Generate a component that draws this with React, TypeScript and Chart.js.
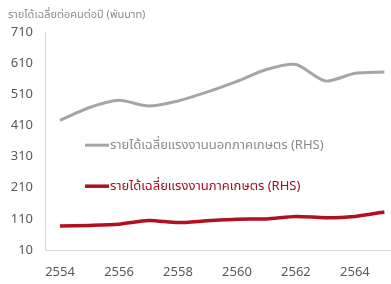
import React, { useEffect, useRef } from "react";
import { Chart, registerables } from "chart.js";

Chart.register(...registerables);

const years = [2554, 2555, 2556, 2557, 2558, 2559, 2560, 2561, 2562, 2563, 2564, 2565];
const nonAgri = [427, 468, 491, 473, 489, 518, 552, 590, 606, 553, 578, 582];
const agri = [87, 89, 93, 105, 98, 104, 109, 110, 118, 114, 118, 132];
const labelNonAgri = "รายได้เฉลี่ยแรงงานนอกภาคเกษตร (RHS)";
const labelAgri = "รายได้เฉลี่ยแรงงานภาคเกษตร (RHS)";
const titleText = "รายได้เฉลี่ยต่อคนต่อปี (พันบาท)";

const FONT = "'Noto Sans', 'Noto Sans Thai', sans-serif";

const legendPlugin = {
  id: "innerLegend",
  afterDatasetsDraw(chart: any) {
    const { ctx, chartArea } = chart;
    const x0 = chartArea.left + 40;
    const ys = [chartArea.top + 113, chartArea.top + 154];
    const textColors = ["#8a8a8a", "#a50f1c"];
    chart.data.datasets.forEach((ds: any, i: number) => {
      const y = ys[i];
      ctx.save();
      ctx.strokeStyle = ds.borderColor;
      ctx.lineWidth = ds.borderWidth;
      ctx.beginPath();
      ctx.moveTo(x0, y);
      ctx.lineTo(x0 + 24, y);
      ctx.stroke();
      ctx.fillStyle = textColors[i];
      ctx.font = `13px ${FONT}`;
      ctx.textBaseline = "middle";
      ctx.textAlign = "left";
      ctx.fillText(ds.label, x0 + 25, y);
      ctx.restore();
    });
  },
};

export default function App() {
  const ref = useRef<HTMLCanvasElement>(null);
  useEffect(() => {
    if (!ref.current) return;
    const chart = new Chart(ref.current, {
      type: "line",
      data: {
        datasets: [
          {
            label: labelNonAgri,
            data: years.map((y, i) => ({ x: y, y: nonAgri[i] })),
            borderColor: "#a6a6a6",
            borderWidth: 3,
            pointRadius: 0,
            tension: 0.25,
          },
          {
            label: labelAgri,
            data: years.map((y, i) => ({ x: y, y: agri[i] })),
            borderColor: "#b01020",
            borderWidth: 3.5,
            pointRadius: 0,
            tension: 0.25,
          },
        ],
      },
      options: {
        animation: false,
        responsive: false,
        layout: { padding: { top: 6, left: 8, right: 1, bottom: 4 } },
        plugins: {
          legend: { display: false },
          tooltip: { enabled: false },
          title: {
            display: true,
            text: titleText,
            align: "start",
            color: "#8c8c8c",
            font: { family: FONT, size: 11, weight: "normal" },
            padding: { top: 2, bottom: 11 },
          },
        },
        scales: {
          x: {
            type: "linear",
            min: 2553.49,
            max: 2565.19,
            grid: { display: false, drawTicks: false },
            border: { display: true, color: "#d9d9d9", width: 1 },
            afterFit: (s: any) => {
              s.height = 30;
            },
            ticks: {
              stepSize: 2,
              includeBounds: false,
              autoSkip: false,
              maxRotation: 0,
              padding: 14,
              color: "#595959",
              font: { family: FONT, size: 13 },
              callback: (v: any) => String(v),
            },
          },
          y: {
            min: 10,
            max: 710,
            grid: { display: false, drawTicks: false },
            border: { display: true, color: "#d9d9d9", width: 1 },
            afterFit: (s: any) => {
              s.width = 37;
            },
            ticks: {
              stepSize: 100,
              padding: 12,
              color: "#595959",
              font: { family: FONT, size: 13 },
              callback: (v: any) => String(v),
            },
          },
        },
      },
      plugins: [legendPlugin],
    });
    return () => chart.destroy();
  }, []);
  return (
    <div style={{ position: "absolute", left: 0, top: 0, width: 391, height: 284, background: "#fff" }}>
      <canvas ref={ref} width={391} height={284} style={{ display: "block" }} />
    </div>
  );
}
